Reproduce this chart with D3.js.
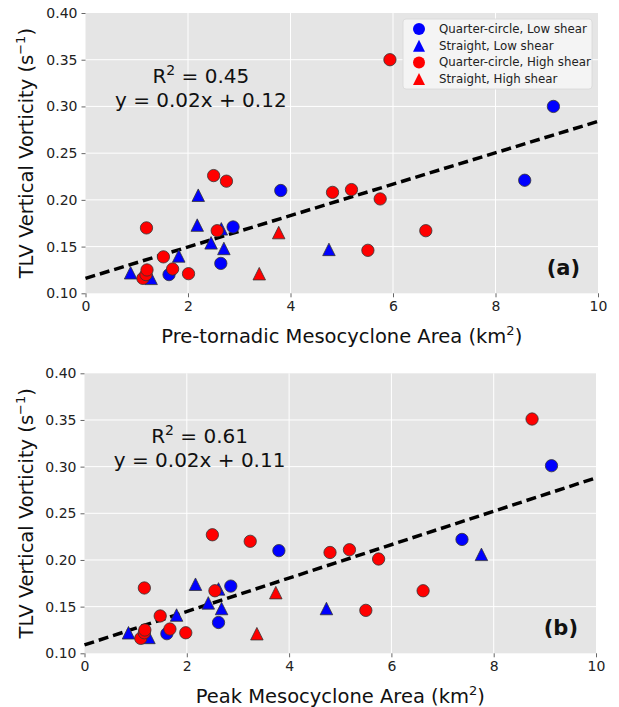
<!DOCTYPE html>
<html><head><meta charset="utf-8">
<script src="https://cdn.jsdelivr.net/npm/d3@7"></script>
<style>body{margin:0;background:#fff}svg{display:block}</style>
</head><body>
<svg id="c" width="619" height="707"></svg>
<script>
// ---- data ----
const groupNames = ["Quarter-circle, Low shear","Straight, Low shear","Quarter-circle, High shear","Straight, High shear"];
const groupColors = ["#0000ff","#0000ff","#ff0000","#ff0000"];
const groupShapes = ["circle","triangle","circle","triangle"];
const xTicks = [0,2,4,6,8,10];
const yTicks = [0.10,0.15,0.20,0.25,0.30,0.35,0.40];

// Panel (a): Pre-tornadic mesocyclone area
const aX = [1.63,2.88,2.64,3.81,8.57,9.13,
            0.88,1.28,1.82,2.20,2.18,2.45,2.65,2.70,4.75,
            1.12,1.18,1.20,1.19,1.70,1.52,2.01,2.50,2.75,2.57,4.82,5.19,5.75,5.51,6.64,5.94,
            3.39,3.77];
const aY = [0.120,0.171,0.132,0.210,0.221,0.300,
            0.122,0.116,0.140,0.205,0.173,0.154,0.169,0.148,0.147,
            0.116,0.120,0.125,0.170,0.126,0.139,0.121,0.226,0.220,0.167,0.208,0.211,0.201,0.146,0.167,0.350,
            0.121,0.165];
const aG = [0,0,0,0,0,0, 1,1,1,1,1,1,1,1,1, 2,2,2,2,2,2,2,2,2,2,2,2,2,2,2,2, 3,3];
const aFit = [0.116,0.284]; // y at x=0 and x=10
const aText = ["0.45","y = 0.02x + 0.12"];

// Panel (b): Peak mesocyclone area
const bX = [1.61,2.86,2.62,3.80,7.38,9.13,
            0.86,1.26,1.80,7.76,2.17,2.42,2.62,2.68,4.73,
            1.10,1.17,1.18,1.17,1.67,1.48,1.98,2.50,3.24,2.55,4.80,5.18,5.75,5.50,6.62,8.75,
            3.37,3.74];
const bY = [0.121,0.172,0.133,0.210,0.222,0.301,
            0.122,0.117,0.141,0.206,0.174,0.154,0.169,0.148,0.148,
            0.116,0.122,0.125,0.170,0.126,0.140,0.122,0.227,0.220,0.167,0.208,0.211,0.201,0.146,0.167,0.351,
            0.121,0.165];
const bG = aG.slice();
const bFit = [0.109,0.288];
const bText = ["0.61","y = 0.02x + 0.11"];

// ---- drawing ----
const svg = d3.select("#c");
const FONT = "DejaVu Sans, sans-serif";

function panel(cfg){
  const {left,right,top,bottom,xs,ys,gs,fit,txt,xlabel,tag,legend} = cfg;
  const x = d3.scaleLinear().domain([0,10]).range([left,right]);
  const y = d3.scaleLinear().domain([0.10,0.40]).range([bottom,top]);
  const g = svg.append("g");
  g.append("rect").attr("x",left).attr("y",top).attr("width",right-left).attr("height",bottom-top).attr("fill","#e5e5e5");
  // grid
  g.append("g").selectAll("line").data(xTicks.slice(1,-1)).join("line")
    .attr("x1",d=>x(d)).attr("x2",d=>x(d)).attr("y1",top).attr("y2",bottom)
    .attr("stroke","#fff").attr("stroke-width",1);
  g.append("g").selectAll("line").data(yTicks.slice(1,-1)).join("line")
    .attr("y1",d=>y(d)).attr("y2",d=>y(d)).attr("x1",left).attr("x2",right)
    .attr("stroke","#fff").attr("stroke-width",1);
  // axes
  const xa = g.append("g").attr("transform",`translate(0,${bottom})`)
    .call(d3.axisBottom(x).tickValues(xTicks).tickFormat(d3.format("d")).tickSize(4).tickPadding(4));
  const ya = g.append("g").attr("transform",`translate(${left},0)`)
    .call(d3.axisLeft(y).tickValues(yTicks).tickFormat(d3.format(".2f")).tickSize(4).tickPadding(4));
  [xa,ya].forEach(a=>{
    a.select(".domain").remove();
    a.selectAll("line").attr("stroke","#666");
    a.selectAll("text").attr("font-family",FONT).attr("font-size",14).attr("fill","#222");
  });
  // fit line
  g.append("line").attr("x1",x(0)).attr("y1",y(fit[0])).attr("x2",x(10)).attr("y2",y(fit[1]))
    .attr("stroke","#000").attr("stroke-width",3.5).attr("stroke-dasharray","10,5");
  // points
  const tri = s => `M0,${-s/2}L${-s/2},${s/2}L${s/2},${s/2}Z`;
  for (let grp=0; grp<4; grp++){
    const idx = d3.range(xs.length).filter(i=>gs[i]===grp);
    const sel = g.append("g").selectAll("path").data(idx).join("path")
      .attr("transform",i=>`translate(${x(xs[i])},${y(ys[i])})`)
      .attr("fill",groupColors[grp]).attr("stroke","#333").attr("stroke-width",0.8);
    if (groupShapes[grp]==="circle") sel.attr("d",d3.symbol(d3.symbolCircle, Math.PI*38)());
    else sel.attr("d",tri(12.5));
  }
  // annotation
  const cx = left + (right-left)*0.225;
  const t1 = g.append("text").attr("x",cx).attr("y",top+70).attr("text-anchor","middle")
    .attr("font-family",FONT).attr("font-size",20).attr("fill","#111");
  t1.append("tspan").text("R");
  t1.append("tspan").attr("font-size",14).attr("dy",-8).text("2");
  t1.append("tspan").attr("dy",8).text(" = "+txt[0]);
  g.append("text").attr("x",cx).attr("y",top+94).attr("text-anchor","middle")
    .attr("font-family",FONT).attr("font-size",20).attr("fill","#111").text(txt[1]);
  // tag
  g.append("text").attr("x",right-18).attr("y",bottom-18).attr("text-anchor","end")
    .attr("font-family",FONT).attr("font-size",21).attr("font-weight","bold").attr("fill","#111").text(tag);
  // x label
  const xl = g.append("text").attr("x",(left+right)/2).attr("y",bottom+50).attr("text-anchor","middle")
    .attr("font-family",FONT).attr("font-size",19.5).attr("fill","#111");
  xl.append("tspan").text(xlabel+" (km");
  xl.append("tspan").attr("font-size",13).attr("dy",-8).text("2");
  xl.append("tspan").attr("dy",8).text(")");
  // y label
  const yl = g.append("text").attr("transform",`translate(33,${(top+bottom)/2}) rotate(-90)`).attr("text-anchor","middle")
    .attr("font-family",FONT).attr("font-size",19.5).attr("fill","#111");
  yl.append("tspan").text("TLV Vertical Vorticity (s");
  yl.append("tspan").attr("font-size",13).attr("dy",-8).text("\u22121");
  yl.append("tspan").attr("dy",8).text(")");
  // legend
  if (legend){
    const lx=403, ly=top+6, lw=189, lh=70;
    const lg = g.append("g");
    lg.append("rect").attr("x",lx).attr("y",ly).attr("width",lw).attr("height",lh).attr("rx",3)
      .attr("fill","#f4f4f4").attr("stroke","#d8d8d8").attr("stroke-width",0.8);
    groupNames.forEach((nm,k)=>{
      const ry = ly+10+k*16.7;
      const m = lg.append("path").attr("transform",`translate(419,${ry})`).attr("fill",groupColors[k]);
      if (groupShapes[k]==="circle") m.attr("d",d3.symbol(d3.symbolCircle, Math.PI*36)());
      else m.attr("d",tri(12));
      lg.append("text").attr("x",439).attr("y",ry+4).attr("font-family",FONT).attr("font-size",11.8)
        .attr("fill","#222").text(nm);
    });
  }
}

panel({left:85.5,right:598,top:13,bottom:293.3,xs:aX,ys:aY,gs:aG,fit:aFit,txt:aText,
       xlabel:"Pre-tornadic Mesocyclone Area",tag:"(a)",legend:true});
panel({left:84.5,right:596,top:373.3,bottom:653.3,xs:bX,ys:bY,gs:bG,fit:bFit,txt:bText,
       xlabel:"Peak Mesocyclone Area",tag:"(b)",legend:false});
</script>
</body></html>
